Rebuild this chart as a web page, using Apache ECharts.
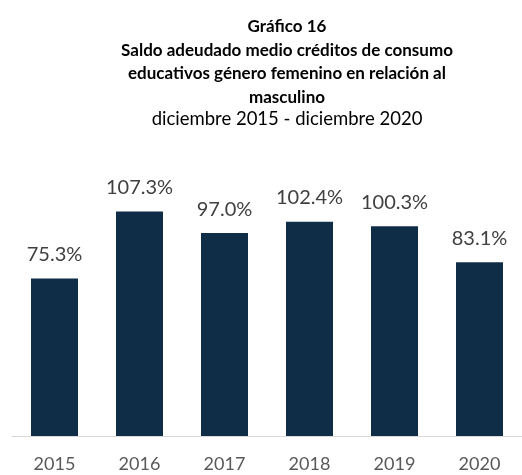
<!DOCTYPE html>
<html>
<head>
<meta charset="utf-8">
<script src="https://cdn.jsdelivr.net/npm/echarts@6/dist/echarts.min.js"></script>
<style>
  html, body { margin: 0; padding: 0; background: #ffffff; }
  #chart { width: 522px; height: 475px; }
</style>
</head>
<body>
<div id="chart"></div>
<script>
  // datos
  var years = ['2015', '2016', '2017', '2018', '2019', '2020'];
  var ratio = [75.3, 107.3, 97.0, 102.4, 100.3, 83.1];

  var myChart = echarts.init(document.getElementById('chart'));
  myChart.setOption({
    animation: false,
    title: {
      text: 'Gráfico 16\nSaldo adeudado medio créditos de consumo\neducativos género femenino en relación al\nmasculino',
      subtext: 'diciembre 2015 - diciembre 2020',
      left: 282,
      top: 10,
      textAlign: 'center',
      itemGap: 0,
      textStyle: {
        fontFamily: 'Lato',
        fontSize: 17,
        fontWeight: 'bold',
        color: '#000000',
        lineHeight: 23.5
      },
      subtextStyle: {
        fontFamily: 'Lato',
        fontSize: 18.5,
        color: '#000000',
        lineHeight: 21
      }
    },
    grid: {
      left: 12,
      width: 514,
      top: 185,
      bottom: 39
    },
    xAxis: {
      type: 'category',
      data: years,
      axisLine: { lineStyle: { color: '#d9d9d9', width: 1 } },
      axisTick: { show: false },
      axisLabel: {
        fontFamily: 'Lato',
        fontSize: 18,
        color: '#595959',
        margin: 19
      }
    },
    yAxis: {
      type: 'value',
      min: 0,
      max: 120,
      show: false,
      splitLine: { show: false }
    },
    series: [{
      type: 'bar',
      data: ratio,
      barWidth: 47,
      itemStyle: { color: '#0f2d47' },
      label: {
        show: true,
        position: 'top',
        distance: 14,
        fontFamily: 'Lato',
        fontSize: 20,
        color: '#404040',
        formatter: function (p) { return p.value.toFixed(1) + '%'; }
      }
    }]
  });
</script>
</body>
</html>
